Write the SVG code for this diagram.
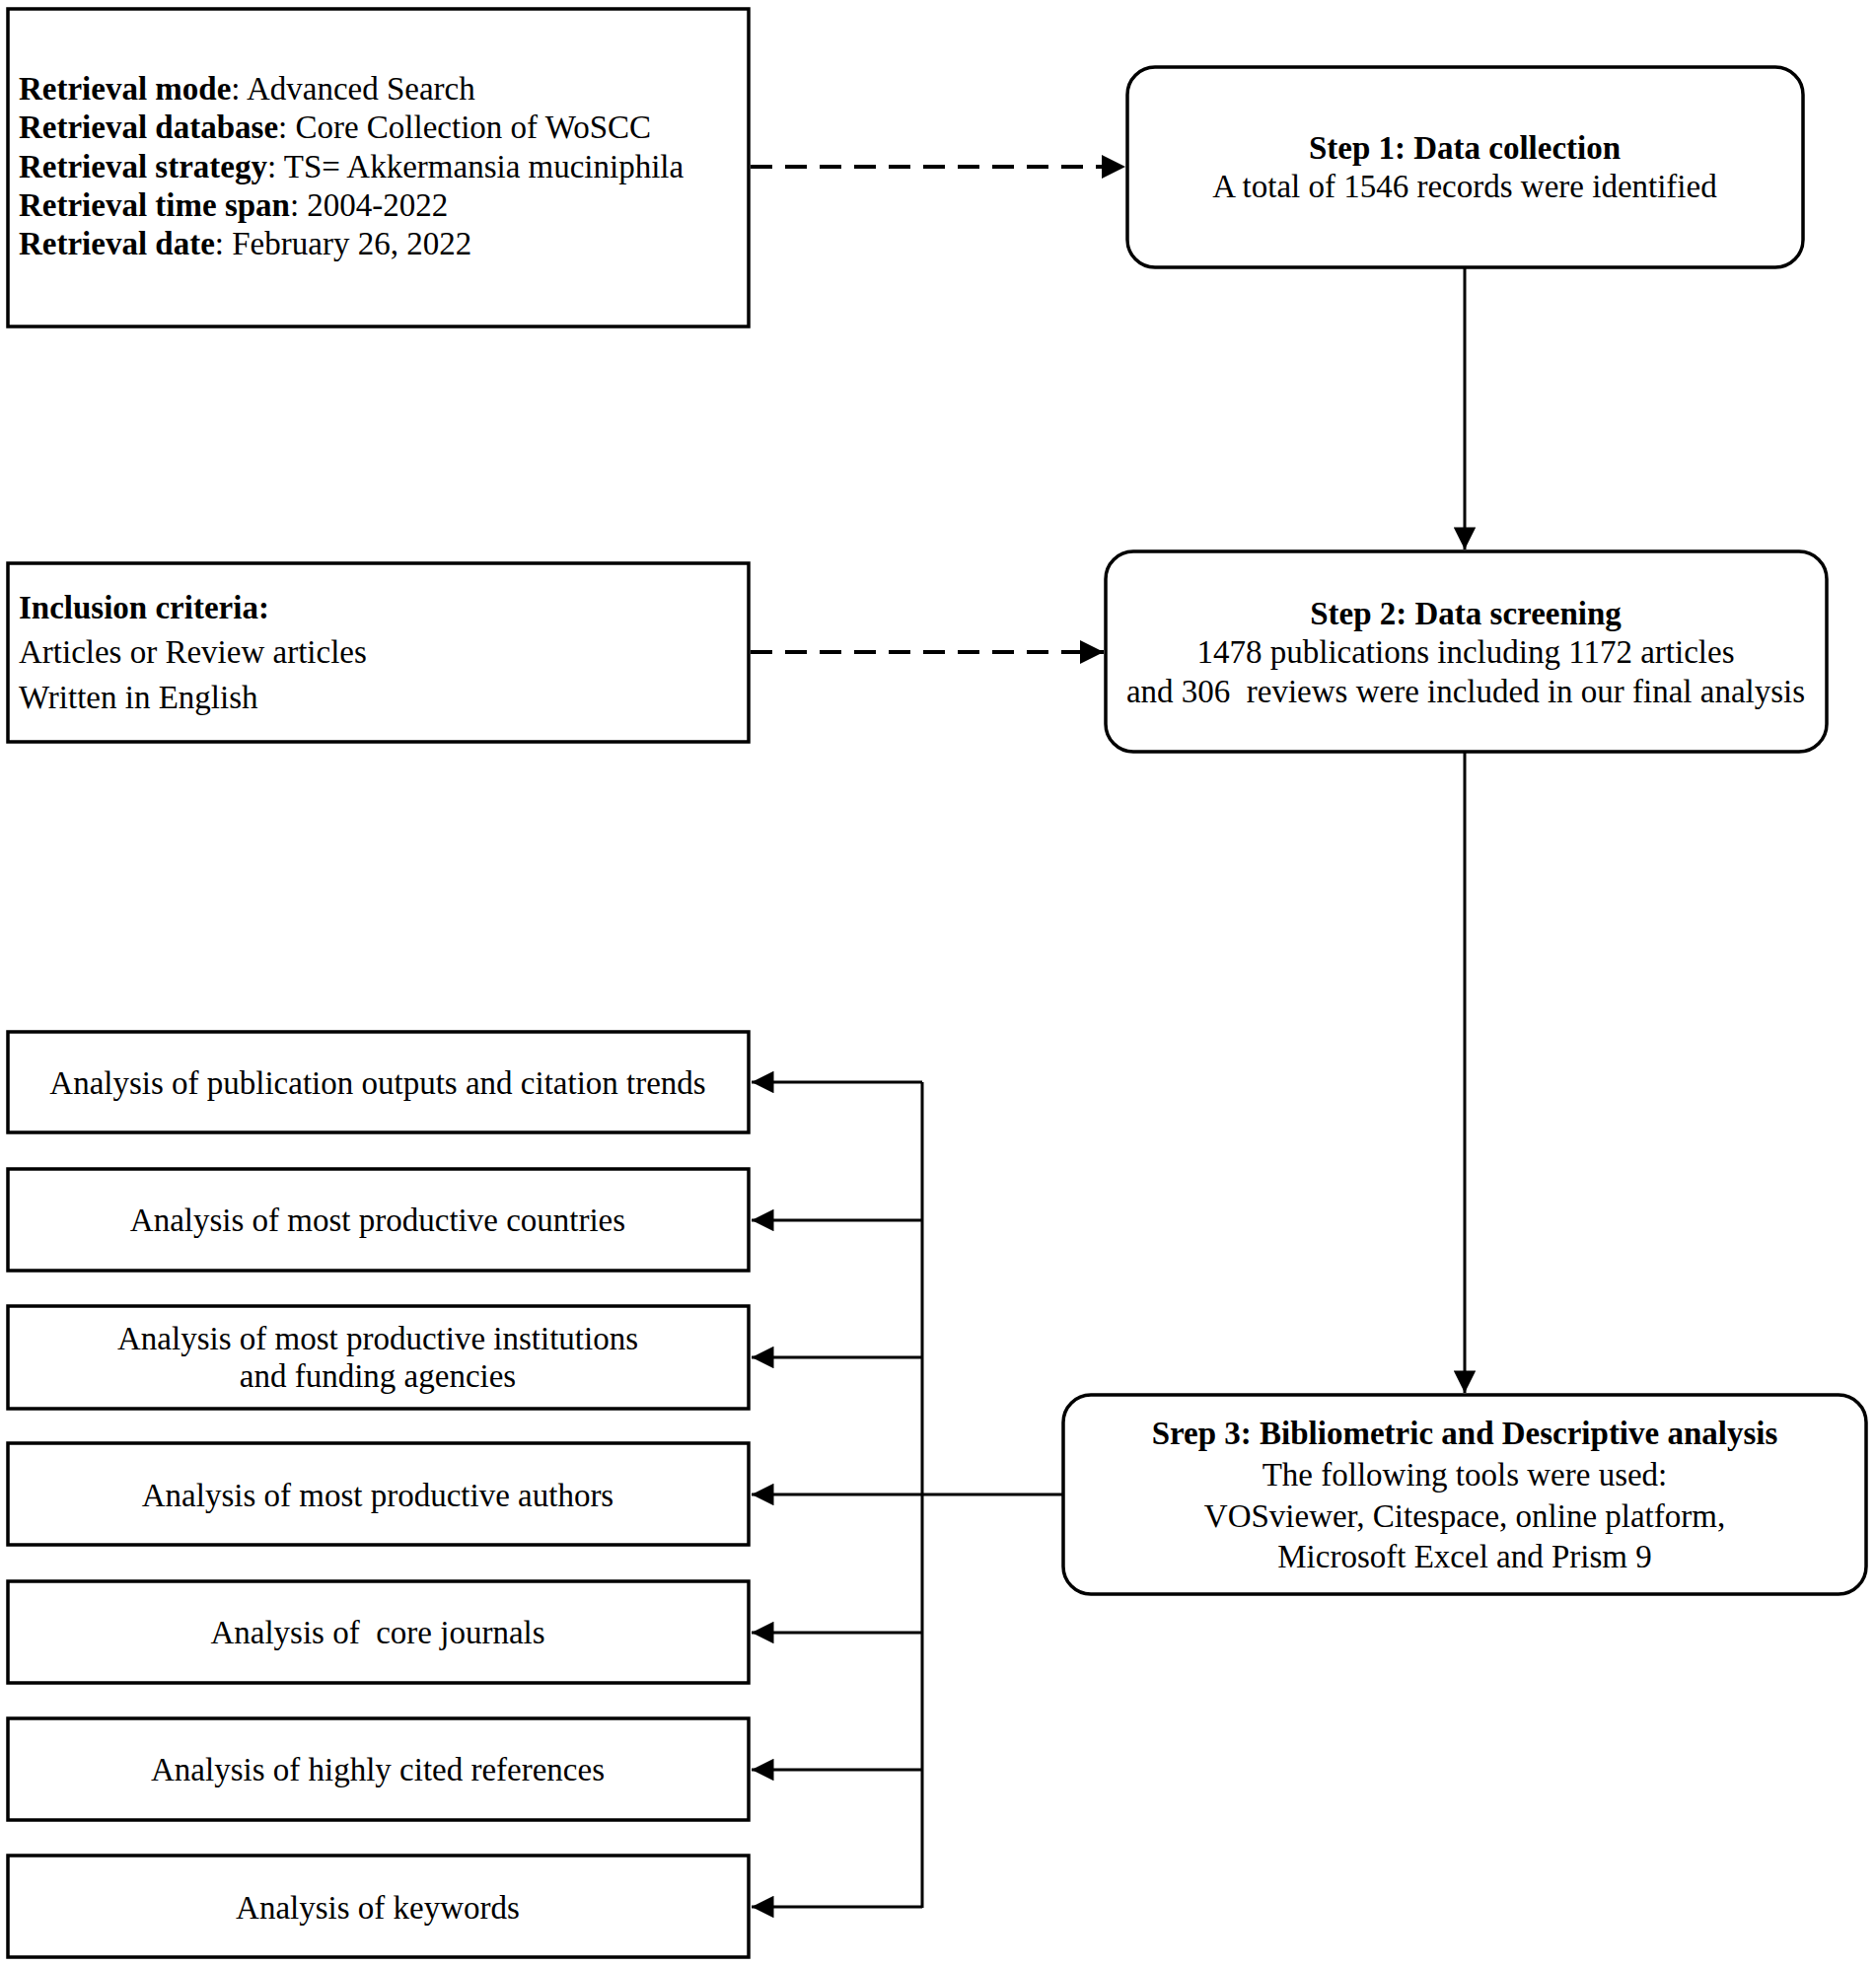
<svg xmlns="http://www.w3.org/2000/svg" width="1902" height="1994" viewBox="0 0 1902 1994">
<style>
.box{fill:#fff;stroke:#000;stroke-width:3.5}
.t{font-family:"Liberation Serif","Times New Roman",serif;font-size:33px;fill:#000}
.c{text-anchor:middle}
.b{font-weight:bold}
.pre{white-space:pre}
.ln{stroke:#000;stroke-width:3;fill:none}
.dash{stroke:#000;stroke-width:4;fill:none;stroke-dasharray:22 13}
</style>
<defs>
<marker id="ah" viewBox="0 0 10 10" refX="10" refY="5" markerWidth="9" markerHeight="7.5" markerUnits="strokeWidth" orient="auto">
<path d="M0,0 L10,5 L0,10 z" fill="#000"/>
</marker>
<marker id="ahd" viewBox="0 0 10 10" refX="10" refY="5" markerWidth="7.5" markerHeight="6" markerUnits="strokeWidth" orient="auto">
<path d="M0,0 L10,5 L0,10 z" fill="#000"/>
</marker>
</defs>
<rect width="1902" height="1994" fill="#fff"/>

<g id="retrieval">
<rect class="box" x="8" y="9" width="751" height="322"/>
<text class="t" x="19" y="101"><tspan class="b">Retrieval mode</tspan>: Advanced Search</text>
<text class="t" x="19" y="140"><tspan class="b">Retrieval database</tspan>: Core Collection of WoSCC</text>
<text class="t" x="19" y="180"><tspan class="b">Retrieval strategy</tspan>: TS= Akkermansia muciniphila</text>
<text class="t" x="19" y="219"><tspan class="b">Retrieval time span</tspan>: 2004-2022</text>
<text class="t" x="19" y="258"><tspan class="b">Retrieval date</tspan>: February 26, 2022</text>
</g>

<g id="step1">
<rect class="box" x="1143" y="68" width="685" height="203" rx="28"/>
<text class="t c b" x="1485" y="161">Step 1: Data collection</text>
<text class="t c" x="1485" y="200">A total of 1546 records were identified</text>
</g>

<g id="inclusion">
<rect class="box" x="8" y="571" width="751" height="181"/>
<text class="t b" x="19" y="627">Inclusion criteria:</text>
<text class="t" x="19" y="672">Articles or Review articles</text>
<text class="t" x="19" y="718">Written in English</text>
</g>

<g id="step2">
<rect class="box" x="1121" y="559" width="731" height="203" rx="28"/>
<text class="t c b" x="1486" y="633">Step 2: Data screening</text>
<text class="t c" x="1486" y="672">1478 publications including 1172 articles</text>
<text class="t c pre" x="1486" y="712" xml:space="preserve">and 306  reviews were included in our final analysis</text>
</g>

<g id="step3">
<rect class="box" x="1078" y="1414" width="814" height="202" rx="28"/>
<text class="t c b" x="1485" y="1464">Srep 3: Bibliometric and Descriptive analysis</text>
<text class="t c" x="1485" y="1506">The following tools were used:</text>
<text class="t c" x="1485" y="1548">VOSviewer, Citespace, online platform,</text>
<text class="t c" x="1485" y="1589">Microsoft Excel and Prism 9</text>
</g>

<g id="a1">
<rect class="box" x="8" y="1046" width="751" height="102"/>
<text class="t c" x="383" y="1109">Analysis of publication outputs and citation trends</text>
</g>
<g id="a2">
<rect class="box" x="8" y="1185" width="751" height="103"/>
<text class="t c" x="383" y="1248">Analysis of most productive countries</text>
</g>
<g id="a3">
<rect class="box" x="8" y="1324" width="751" height="104"/>
<text class="t c" x="383" y="1368">Analysis of most productive institutions</text>
<text class="t c" x="383" y="1406">and funding agencies</text>
</g>
<g id="a4">
<rect class="box" x="8" y="1463" width="751" height="103"/>
<text class="t c" x="383" y="1527">Analysis of most productive authors</text>
</g>
<g id="a5">
<rect class="box" x="8" y="1603" width="751" height="103"/>
<text class="t c pre" x="383" y="1666" xml:space="preserve">Analysis of  core journals</text>
</g>
<g id="a6">
<rect class="box" x="8" y="1742" width="751" height="103"/>
<text class="t c" x="383" y="1805">Analysis of highly cited references</text>
</g>
<g id="a7">
<rect class="box" x="8" y="1881" width="751" height="103"/>
<text class="t c" x="383" y="1945">Analysis of keywords</text>
</g>

<g id="connectors">
<line class="dash" x1="761" y1="169" x2="1141" y2="169" marker-end="url(#ahd)"/>
<line class="dash" x1="761" y1="661" x2="1119" y2="661" marker-end="url(#ahd)"/>
<line class="ln" x1="1485" y1="272" x2="1485" y2="557" marker-end="url(#ah)"/>
<line class="ln" x1="1485" y1="763" x2="1485" y2="1412" marker-end="url(#ah)"/>
<line class="ln" x1="1077" y1="1515" x2="762" y2="1515" marker-end="url(#ah)"/>
<line class="ln" x1="935" y1="1097" x2="935" y2="1934"/>
<line class="ln" x1="935" y1="1097" x2="762" y2="1097" marker-end="url(#ah)"/>
<line class="ln" x1="935" y1="1237" x2="762" y2="1237" marker-end="url(#ah)"/>
<line class="ln" x1="935" y1="1376" x2="762" y2="1376" marker-end="url(#ah)"/>
<line class="ln" x1="935" y1="1655" x2="762" y2="1655" marker-end="url(#ah)"/>
<line class="ln" x1="935" y1="1794" x2="762" y2="1794" marker-end="url(#ah)"/>
<line class="ln" x1="935" y1="1933" x2="762" y2="1933" marker-end="url(#ah)"/>
</g>
</svg>
